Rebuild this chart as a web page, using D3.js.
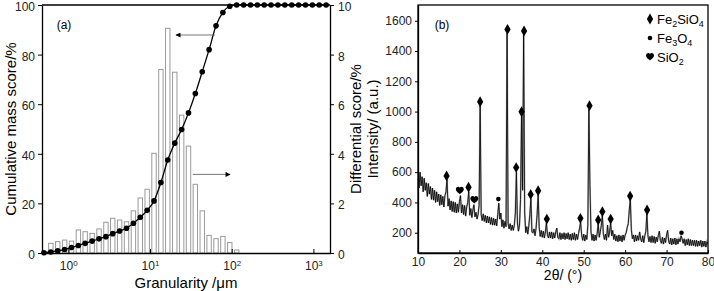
<!DOCTYPE html>
<html>
<head>
<meta charset="utf-8">
<script src="https://cdn.jsdelivr.net/npm/d3@7"></script>
<style>
body { margin: 0; background: #fff; }
svg { font-family: "Liberation Sans", Arial, sans-serif; }
</style>
</head>
<body>
<svg id="chart" width="714" height="291"></svg>
<script>
// ---- (a) particle size distribution ----
const sizes = [0.504, 0.612, 0.743, 0.902, 1.095, 1.33, 1.61, 1.96, 2.38, 2.89,
    3.50, 4.25, 5.16, 6.27, 7.61, 9.24, 11.2, 13.6, 16.5, 20.1,
    24.4, 29.6, 35.9, 43.6, 52.9, 64.3, 78.0, 94.7, 115, 140,
    170, 206, 250, 303, 368, 447, 543, 659, 800, 971, 1179, 1431];
const cumulative = [0.1, 0.4, 0.9, 1.4, 2.2, 3.0, 3.9, 4.8, 5.7, 6.6,
    7.8, 8.9, 10.0, 12.0, 14.4, 17.2, 21.0, 28.4, 37.5, 44.3,
    49.8, 56.5, 64.3, 73.1, 82.0, 91.6, 97.0, 99.5, 100, 100,
    100, 100, 100, 100, 100, 100, 100, 100, 100, 100, 100, 100];
const differential = [0, 0.39, 0.46, 0.52, 0.48, 0.93, 0.86, 0.79, 0.97, 1.24,
    1.40, 1.33, 1.26, 1.70, 2.22, 2.57, 4.02, 7.40, 9.06, 7.29,
    5.56, 4.31, 2.77, 1.70, 0.71, 0.58, 0.67, 0.42, 0.12, 0,
    0, 0, 0, 0, 0, 0, 0, 0, 0, 0, 0, 0];
const cumTicks = [0, 20, 40, 60, 80, 100];
const diffTicks = [0, 2, 4, 6, 8, 10];
const sizeTicks = [1, 10, 100, 1000];

// ---- (b) XRD pattern, 10-80 deg every 0.25 deg ----
const thetaStart = 10, thetaStep = 0.25;
const intensity = [
    595, 495, 600, 510,  570, 470, 560, 480,  530, 440, 525, 455,  505, 420, 495, 415,
    480, 400, 470, 405,  455, 380, 450, 385,  440, 370, 445, 470,  550, 375, 425, 350,
    410, 340, 405, 335,  400, 330, 390, 335,  405, 445, 330, 385,  320, 380, 310, 370,
    400, 470, 315, 360,  300, 350, 385, 305,  335, 290, 320, 380,  1040, 320, 280, 325,
    275, 315, 265, 310,  265, 305, 255, 300,  250, 295, 250, 290,  245, 320, 395, 290,
    330, 240, 285, 230,  275, 240, 1520, 260,  225, 260, 215, 250,  215, 250, 330, 600,
    265, 210, 250, 420,  975, 480, 1510, 330,  200, 240, 190, 245,  320, 425, 205, 200,
    225, 180, 230, 320,  450, 235, 175, 215,  170, 210, 165, 205,  265, 185, 165, 205,
    165, 205, 160, 200,  165, 205, 230, 170,  160, 200, 155, 195,  160, 200, 155, 195,
    160, 200, 155, 190,  150, 195, 155, 200,  150, 190, 155, 195,  230, 270, 185, 150,
    190, 145, 185, 155,  250, 1015, 520, 210,  150, 190, 145, 185,  150, 195, 260, 170,
    205, 250, 315, 190,  155, 190, 150, 250,  170, 205, 265, 180,  215, 155, 190, 145,
    180, 140, 185, 145,  180, 140, 185, 150,  185, 200, 235, 260,  350, 420, 220, 160,
    185, 140, 185, 145,  180, 150, 205, 160,  140, 180, 135, 180,  210, 325, 180, 140,
    175, 135, 180, 135,  175, 130, 170, 140,  180, 210, 150, 130,  170, 125, 165, 135,
    185, 215, 145, 125,  165, 120, 160, 125,  165, 120, 160, 125,  160, 140, 180, 160,
    130, 160, 115, 155,  120, 160, 115, 155,  115, 150, 115, 150,  110, 150, 110, 145,
    115, 150, 105, 145,  110, 145, 105, 140,  125];
const fe2sio4Peaks = [[16.9, 575], [22.2, 500], [25.0, 1065], [31.6, 1543], [33.7, 630],
    [35.0, 999], [35.6, 1532], [37.2, 453], [39.0, 477], [41.1, 290], [49.2, 295],
    [51.4, 1039], [53.5, 284], [54.5, 339], [56.5, 290], [61.2, 442], [65.3, 350]];
const fe3o4Peaks = [[29.4, 422], [73.6, 200]];
const sio2Peaks = [[20.1, 477], [23.6, 416]];
const thetaTicks = [10, 20, 30, 40, 50, 60, 70, 80];
const intensityTicks = [200, 400, 600, 800, 1000, 1200, 1400, 1600];

const svg = d3.select("#chart");

// ================= panel (a) =================
const A = { left: 42, right: 330, top: 5, bottom: 253 };
const xA = d3.scaleLog().domain([0.477, 1596]).range([A.left, A.right]);
const yA = d3.scaleLinear().domain([0, 100]).range([A.bottom, A.top]);
const yA2 = d3.scaleLinear().domain([0, 10]).range([A.bottom, A.top]);

const psd = sizes.map((s, i) => ({ s: s, c: cumulative[i], v: differential[i] }));

const gA = svg.append("g");

gA.append("g").selectAll("rect")
    .data(psd.filter(d => d.v > 0))
    .join("rect")
    .attr("x", d => xA(d.s) - 2.2)
    .attr("width", 4.4)
    .attr("y", d => yA2(d.v))
    .attr("height", d => yA2(0) - yA2(d.v))
    .attr("fill", "#fff")
    .attr("stroke", "#9a9a9a")
    .attr("stroke-width", 1);

const cumLine = d3.line()
    .x(d => xA(d.s))
    .y(d => yA(d.c))
    .curve(d3.curveMonotoneX);

gA.append("path")
    .datum(psd)
    .attr("d", cumLine)
    .attr("fill", "none")
    .attr("stroke", "#000")
    .attr("stroke-width", 1.3);

gA.append("g").selectAll("circle")
    .data(psd)
    .join("circle")
    .attr("cx", d => xA(d.s))
    .attr("cy", d => yA(d.c))
    .attr("r", 2.8)
    .attr("fill", "#000");

// arrows
svg.append("defs").append("marker")
    .attr("id", "arrowHead")
    .attr("viewBox", "0 0 10 10")
    .attr("refX", 9).attr("refY", 5)
    .attr("markerWidth", 7).attr("markerHeight", 5)
    .attr("markerUnits", "userSpaceOnUse")
    .attr("orient", "auto")
    .append("path").attr("d", "M0,0 L10,5 L0,10 Z").attr("fill", "#000");

const arrows = [
    { from: [62.5, 87.9], to: [20.8, 87.9] },
    { from: [33.3, 31.7], to: [95.5, 31.7] }
];
gA.append("g").selectAll("line")
    .data(arrows)
    .join("line")
    .attr("x1", d => xA(d.from[0])).attr("y1", d => yA(d.from[1]))
    .attr("x2", d => xA(d.to[0])).attr("y2", d => yA(d.to[1]))
    .attr("stroke", "#666")
    .attr("stroke-width", 0.9)
    .attr("marker-end", "url(#arrowHead)");

// axes
const axLeftA = gA.append("g")
    .attr("transform", `translate(${A.left},0)`)
    .call(d3.axisLeft(yA).tickValues(cumTicks).tickSize(4).tickSizeOuter(0).tickPadding(3));
const axRightA = gA.append("g")
    .attr("transform", `translate(${A.right},0)`)
    .call(d3.axisRight(yA2).tickValues(diffTicks).tickSize(4).tickSizeOuter(0).tickPadding(4));
const axBottomA = gA.append("g")
    .attr("transform", `translate(0,${A.bottom})`)
    .call(d3.axisBottom(xA).tickValues(sizeTicks).tickFormat(() => "10").tickSizeInner(-4).tickSizeOuter(0).tickPadding(8));
axBottomA.selectAll(".tick text")
    .append("tspan")
    .attr("dy", "-0.5em")
    .text(d => Math.round(Math.log10(d)));

gA.append("line")
    .attr("x1", A.left).attr("x2", A.right)
    .attr("y1", A.top).attr("y2", A.top)
    .attr("stroke", "#000").attr("stroke-width", 1.5);

gA.append("text")
    .attr("x", 64).attr("y", 29)
    .attr("text-anchor", "middle")
    .attr("font-size", "12px")
    .text("(a)");

gA.append("text")
    .attr("transform", `translate(16,${(A.top + A.bottom) / 2}) rotate(-90)`)
    .attr("text-anchor", "middle")
    .attr("font-size", "15px")
    .text("Cumulative mass score/%");
gA.append("text")
    .attr("transform", `translate(361,${(A.top + A.bottom) / 2}) rotate(-90)`)
    .attr("text-anchor", "middle")
    .attr("font-size", "15px")
    .text("Differential score/%");
gA.append("text")
    .attr("x", (A.left + A.right) / 2).attr("y", 288)
    .attr("text-anchor", "middle")
    .attr("font-size", "15px")
    .text("Granularity /\u03bcm");

// ================= panel (b) =================
const B = { left: 418, right: 708, top: 5, bottom: 253 };
const xB = d3.scaleLinear().domain([10, 80]).range([B.left, B.right]);
const yB = d3.scaleLinear().domain([66, 1704]).range([B.bottom, B.top]);

const gB = svg.append("g");

gB.append("defs").append("clipPath").attr("id", "clipB")
    .append("rect")
    .attr("x", B.left).attr("y", B.top)
    .attr("width", B.right - B.left).attr("height", B.bottom - B.top);

const xrd = intensity.map((v, i) => ({ t: thetaStart + i * thetaStep, v: v }));
const xrdLine = d3.line().x(d => xB(d.t)).y(d => yB(d.v));

const traceG = gB.append("g").attr("clip-path", "url(#clipB)");
traceG.append("path")
    .datum(xrd)
    .attr("d", xrdLine)
    .attr("fill", "none")
    .attr("stroke", "#aaa")
    .attr("stroke-width", 1.7);
traceG.append("path")
    .datum(xrd)
    .attr("d", xrdLine)
    .attr("fill", "none")
    .attr("stroke", "#000")
    .attr("stroke-width", 0.8);

const heartPath = "M0,3.6 C-1,2.6 -4,0.6 -4,-1.4 C-4,-3.1 -2.6,-3.9 -1.6,-3.9 C-0.8,-3.9 0,-3.3 0,-2.5 C0,-3.3 0.8,-3.9 1.6,-3.9 C2.6,-3.9 4,-3.1 4,-1.4 C4,0.6 1,2.6 0,3.6 Z";
const diamondPath = d3.symbol(d3.symbolDiamond, 34)();

gB.append("g").selectAll("path")
    .data(fe2sio4Peaks)
    .join("path")
    .attr("transform", d => `translate(${xB(d[0])},${yB(d[1])})`)
    .attr("d", diamondPath)
    .attr("fill", "#000");
gB.append("g").selectAll("circle")
    .data(fe3o4Peaks)
    .join("circle")
    .attr("cx", d => xB(d[0]))
    .attr("cy", d => yB(d[1]))
    .attr("r", 2.3)
    .attr("fill", "#000");
gB.append("g").selectAll("path")
    .data(sio2Peaks)
    .join("path")
    .attr("transform", d => `translate(${xB(d[0])},${yB(d[1])})`)
    .attr("d", heartPath)
    .attr("fill", "#000");

gB.append("rect")
    .attr("x", B.left).attr("y", B.top)
    .attr("width", B.right - B.left).attr("height", B.bottom - B.top)
    .attr("fill", "none").attr("stroke", "#000").attr("stroke-width", 1.3);

gB.append("g")
    .attr("transform", `translate(${B.left},0)`)
    .call(d3.axisLeft(yB).tickValues(intensityTicks).tickFormat(d3.format("d"))
        .tickSize(3).tickSizeOuter(0).tickPadding(3));
gB.append("g")
    .attr("transform", `translate(0,${B.bottom})`)
    .call(d3.axisBottom(xB).tickValues(thetaTicks).tickSizeInner(-3).tickSizeOuter(0).tickPadding(4));

gB.append("text")
    .attr("x", 442).attr("y", 29)
    .attr("text-anchor", "middle")
    .attr("font-size", "12px")
    .text("(b)");

gB.append("text")
    .attr("transform", `translate(378,${(B.top + B.bottom) / 2}) rotate(-90)`)
    .attr("text-anchor", "middle")
    .attr("font-size", "15px")
    .text("Intensity/ (a.u.)");
gB.append("text")
    .attr("x", (B.left + B.right) / 2).attr("y", 280)
    .attr("text-anchor", "middle")
    .attr("font-size", "14px")
    .text("2\u03b8/ (\u00b0)");

// legend
const legendRows = [
    { kind: "diamond", parts: [["Fe"], ["2", 1], ["SiO"], ["4", 1]] },
    { kind: "dot", parts: [["Fe"], ["3", 1], ["O"], ["4", 1]] },
    { kind: "heart", parts: [["SiO"], ["2", 1]] }
];
const legend = gB.append("g").attr("transform", "translate(650,19)");
legendRows.forEach((row, i) => {
    const g = legend.append("g").attr("transform", `translate(0,${i * 19})`);
    if (row.kind === "diamond") g.append("path").attr("d", diamondPath).attr("fill", "#000");
    if (row.kind === "dot") g.append("circle").attr("r", 2.3).attr("fill", "#000");
    if (row.kind === "heart") g.append("path").attr("d", heartPath).attr("fill", "#000");
    const t = g.append("text").attr("x", 7).attr("y", 4.5).attr("font-size", "13px");
    let sub = false;
    row.parts.forEach(p => {
        const isSub = !!p[1];
        const span = t.append("tspan").text(p[0]);
        if (isSub) span.attr("font-size", "9px").attr("dy", "3");
        else if (sub) span.attr("dy", "-3");
        sub = isSub;
    });
});

// axis styling
svg.selectAll(".domain").attr("stroke", "#000").attr("stroke-width", 1.3);
svg.selectAll(".tick line").attr("stroke", "#000");
svg.selectAll(".tick text").attr("font-size", "12px").attr("fill", "#222")
    .attr("font-family", "\"Liberation Sans\", Arial, sans-serif");
axBottomA.selectAll(".tick text tspan").attr("font-size", "8px");
// keep the top labels of panel (a) inside the picture
axLeftA.selectAll(".tick text").attr("dy", "0.45em");
axRightA.selectAll(".tick text").attr("dy", "0.45em");
</script>
</body>
</html>
